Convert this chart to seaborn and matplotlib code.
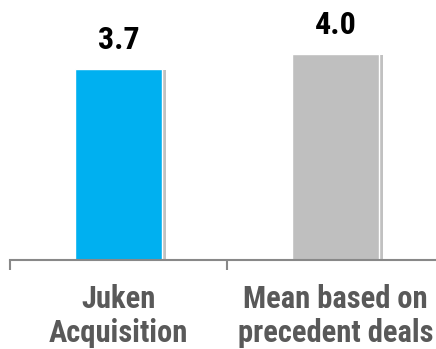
import matplotlib
matplotlib.use('Agg')
import matplotlib.pyplot as plt
import matplotlib.patheffects as pe
import seaborn as sns
import pandas as pd

categories = ['Juken\nAcquisition', 'Mean based on\nprecedent deals']
values = [3.7, 4.0]
bar_colors = ['#00B0F0', '#BFBFBF']

sns.set_style('white')
plt.rcParams['font.family'] = ['Roboto Condensed', 'Archivo Narrow', 'DejaVu Sans']

df = pd.DataFrame({'cat': categories, 'val': values})

fig = plt.figure(figsize=(4.36, 3.49), dpi=100)
ax = fig.add_axes([10 / 436, 89 / 349, 434 / 436, 258 / 349])

sns.barplot(data=df, x='cat', y='val', hue='cat', palette=bar_colors,
            width=0.405, legend=False, ax=ax, saturation=1)

# soft grey edge on the right, like the 3d-ish office shadow
for p in ax.patches:
    p.set_path_effects([pe.SimplePatchShadow(offset=(2.5, -1), shadow_rgbFace='#999999', alpha=0.6),
                        pe.Normal()])

ax.set_ylim(0, 5.0)
ax.set_xlim(-0.5, 1.5)
ax.set_xlabel('')
ax.set_ylabel('')
ax.set_yticks([])

for spine in ['top', 'right', 'left']:
    ax.spines[spine].set_visible(False)
ax.spines['bottom'].set_color('#888888')
ax.spines['bottom'].set_linewidth(1.5)

ax.set_xticks([0, 1])
ax.set_xticklabels(categories, fontsize=22, fontweight='bold', color='#595959', linespacing=1.2)
ax.tick_params(axis='x', which='major', length=0, pad=17)
ax.set_xticks([-0.5, 0.5, 1.5], minor=True)
ax.tick_params(axis='x', which='minor', length=7, width=1.5, color='#888888', direction='out', bottom=True)

for i, v in enumerate(values):
    ax.annotate(f'{v:.1f}', (i, v), xytext=(0, 10), textcoords='offset points',
                ha='center', va='bottom', fontsize=23, fontweight='bold', color='black')

fig.savefig('out.png', dpi=100)
